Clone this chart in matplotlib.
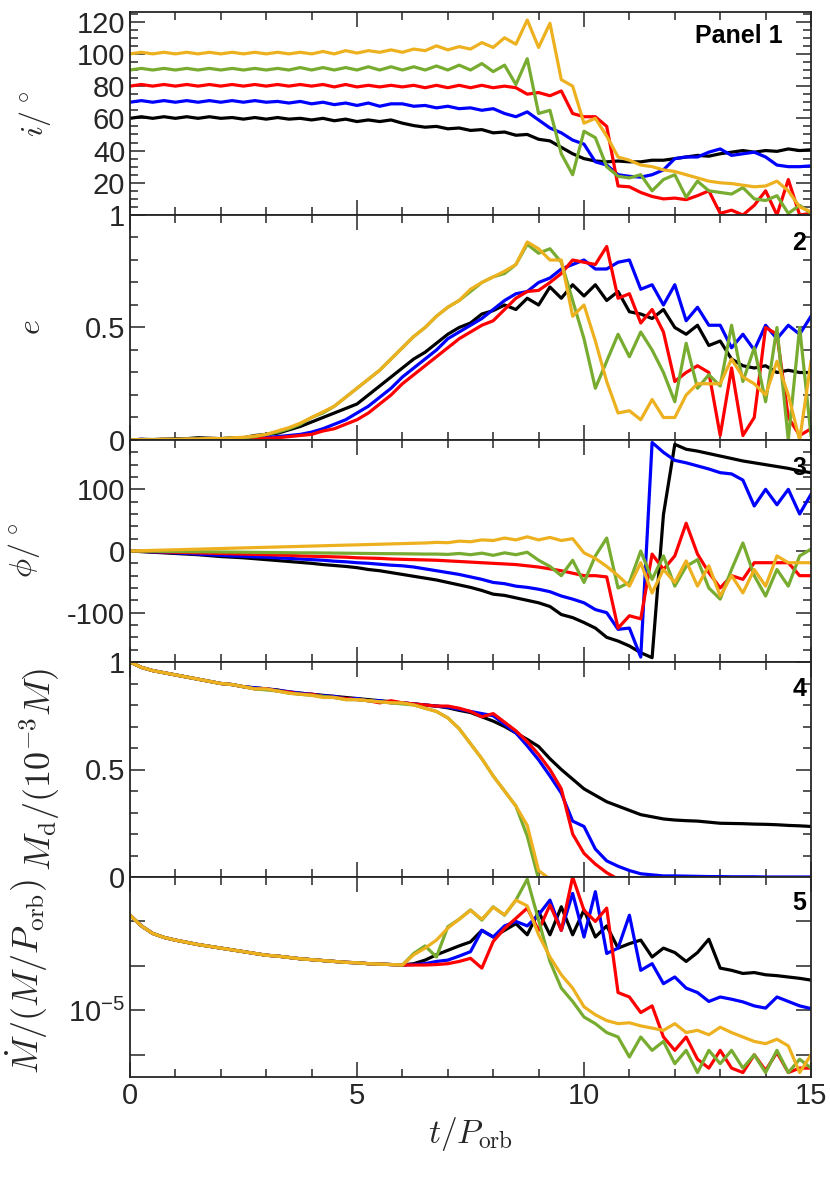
import numpy as np
import matplotlib
matplotlib.use("Agg")
import matplotlib.pyplot as plt
from matplotlib.ticker import MultipleLocator, FixedLocator, FixedFormatter, NullLocator

plt.rcParams['font.family'] = ['Liberation Sans', 'DejaVu Sans']
plt.rcParams['mathtext.fontset'] = 'cm'
plt.rcParams['axes.unicode_minus'] = False

nan = np.nan

# time grid, t / P_orb
t = np.linspace(0, 15, 61)

# ---- panel 1: inclination (deg)
inc_black = [60, 61, 60, 61, 60, 61, 60, 61, 60, 60.5, 59.5, 60.5, 59.5, 60.5, 59.5, 60,
             59, 60, 58.5, 59.5, 58, 59, 58, 59, 57, 55.5, 54.5, 55, 53.5, 54, 52.5, 53,
             51, 51.5, 49.5, 50, 47, 46, 42, 38, 35, 33.5, 33, 33.5, 33, 33, 34, 34,
             35, 36, 37, 36.5, 38, 39, 40, 39, 40, 39.5, 41, 40, 40.5]
inc_blue = [70, 71, 70, 71, 70, 71, 70, 71, 70, 71, 70, 71, 70, 70.5, 69.5, 70.5,
            69, 70, 68.5, 69.5, 68, 69.5, 67.5, 69, 69, 67.5, 68, 66.5, 67.5, 66, 66.5, 65,
            66, 63, 61, 64, 59, 54, 51, 46.5, 44, 33, 31, 25, 24, 23.5, 25, 28,
            35, 36, 36, 39, 41, 37, 38, 39, 36, 31, 30, 30, 30.5]
inc_red = [80, 81, 80, 81, 80, 81, 80, 81, 80, 81, 80, 81, 80, 81, 80, 81,
           80, 81, 79.5, 81, 79.5, 80.5, 79.5, 80.5, 79.5, 80.5, 79, 80.5, 79, 80.5, 79, 80.5,
           79, 80, 79, 75, 76, 74, 77, 63, 61, 61, 55, 18, 17.5, 14, 11.5, 10,
           10.5, 9.5, 12, 15, 1, 3, 0, 6, 15, 0, 22, 0, 1]
inc_green = [90, 91, 90, 91, 90, 91, 90, 91, 90, 91, 90, 91, 90, 91, 90, 91.5,
             90, 91.5, 90, 91.5, 90, 92, 90, 92, 90, 92, 90, 92.5, 90, 93, 90, 94,
             89, 93, 81, 97, 63, 65, 38, 25, 52, 48, 30, 24, 23, 25, 15, 22,
             25, 11, 21, 15, 14, 13, 17, 10, 9, 12, 1, 6, 1]
inc_yellow = [100, 101, 100, 101, 100, 101, 100, 101, 100, 101, 100, 101, 100, 101, 100, 101,
              100, 101.5, 100, 102, 100.5, 102, 101, 102.5, 101, 103, 102, 105, 102.5, 104.5, 103, 107,
              104, 110, 106, 121, 104, 119, 84, 80, 57, 60, 49, 36, 34, 31, 30, 28,
              27, 25, 23, 21, 20, 19.5, 18.5, 17.5, 18, 21, 15, 5, 2]

# ---- panel 2: eccentricity
e_black = [0, .003, .002, .004, .005, .006, .01, .008, .006, .01, .01, .02, .025, .03, .045, .06,
           .08, .1, .12, .14, .16, .2, .24, .28, .32, .36, .39, .43, .47, .5, .52, .56,
           .575, .6, .58, .63, .6, .68, .63, .69, .64, .69, .62, .66, .57, .56, .54, .58,
           .5, .47, .51, .42, .44, .36, .33, .32, .33, .3, .31, .3, .3]
e_blue = [0, .003, 0, .003, .002, .004, .003, .005, .004, .006, .008, .01, .012, .015, .02, .025,
          .035, .05, .07, .09, .12, .15, .19, .23, .28, .32, .36, .4, .45, .48, .51, .54,
          .58, .62, .65, .66, .7, .72, .76, .78, .8, .76, .76, .79, .8, .67, .69, .6,
          .69, .53, .59, .51, .51, .41, .47, .4, .51, .45, .51, .47, .55]
e_red = [0, .002, 0, .002, 0, .002, .001, .003, .002, .004, .005, .007, .008, .01, .015, .02,
         .025, .04, .05, .07, .09, .12, .16, .2, .25, .29, .33, .37, .41, .45, .48, .51,
         .53, .58, .63, .66, .665, .7, .74, .8, .79, .78, .86, .63, .65, .52, .58, .48,
         .26, .3, .33, .3, .02, .32, .02, .1, .5, .47, .1, .02, .05]
e_green = [0, .002, .001, .003, .002, .004, .004, .006, .006, .008, .01, .015, .025, .035, .05, .07,
           .1, .12, .15, .19, .23, .27, .31, .36, .41, .46, .5, .55, .59, .62, .66, .7,
           .725, .74, .78, .87, .83, .85, .79, .62, .45, .23, .35, .47, .37, .48, .4, .3,
           .17, .43, .23, .29, .24, .51, .26, .41, .17, .5, 0, .5, .02]
e_yellow = [0, .002, .001, .004, .003, .005, .005, .007, .006, .01, .012, .018, .025, .04, .055, .075,
            .1, .125, .15, .19, .23, .27, .31, .36, .41, .46, .5, .55, .59, .62, .67, .7,
            .725, .75, .78, .88, .85, .8, .8, .55, .6, .44, .26, .12, .13, .09, .18, .1,
            .1, .2, .25, .25, .25, .36, .28, .25, .2, .35, .2, 0, .35]

# ---- panel 3: phase angle (deg)
phi_black = [0, -1, -2, -3, -4, -5, -6, -7.5, -9, -10, -11, -12.5, -14, -15.5, -17, -18.5,
             -20, -22, -23.5, -25, -27, -30, -32, -35, -38, -41, -44, -47, -51, -55, -59, -64,
             -70, -72, -76, -80, -84, -90, -103, -108, -116, -125, -140, -146, -154, -165, -173, 59,
             173, 165, 162, 158, 154, 150, 146, 143, 140, 137, 134, 130, 127]
phi_blue = [0, -.5, -1.5, -2, -3, -4, -5, -6, -7, -8, -8.5, -9.5, -10, -11, -12, -13,
            -14, -15, -16.5, -17.5, -19, -20, -21.5, -23, -24, -26, -29, -32, -35, -38, -42, -46,
            -51, -53, -57, -59, -62, -66, -73, -78, -84, -95, -100, -127, -125, -172, 176, 160,
            147, 143, 138, 133, 127, 125, 115, 73, 100, 75, 100, 60, 92]
phi_red = [0, -.5, -1, -1.5, -2, -2.5, -3, -3.5, -4, -4.5, -5, -5.5, -6, -6.5, -7, -8,
           -8.5, -9, -9.5, -10, -11, -11.5, -12, -13, -13.5, -14, -14.5, -15, -16, -17, -18, -19,
           -20, -21, -22, -24, -26, -29, -32, -36, -40, -40, -42, -125, -105, -110, -5, -30,
           -8, 45, -5, -35, -60, -40, -46, -19, -19, -19, -19, -40, -40]
phi_green = [0, -.2, -.4, -.6, -.8, -1, -1.2, -1.4, -1.6, -1.8, -2, -2.2, -2.4, -2.6, -2.8, -3,
             -3, -3.2, -3.4, -3.6, -3.8, -4, -4.2, -4.4, -4.5, -4.7, -5, -5, -5.5, -4, -6, -3.5,
             -7, -3, -6, -2, -15, -25, -40, -15, -51, -8, 21, -60, -51, 0, -46, -8,
             -57, -25, -14, -60, -78, -30, 13, -40, -73, -30, -57, -8, 3]
phi_yellow = [0, .5, 1, 1.5, 2, 2.5, 3, 3.5, 4, 4.5, 5, 5.5, 6, 6.5, 7, 7.5,
              8, 8.5, 9, 9.5, 10, 10.5, 11, 11.5, 12, 12.5, 13, 14, 13.5, 16, 15, 18,
              17, 21, 18, 23, 18, 22, 17, 20, -3, -12, -25, -40, -57, -19, -68, -30,
              -51, -16, -57, -24, -73, -40, -68, -30, -57, -8, -19, -19, -19]

# ---- panel 4: disc mass (1e-3 M)
md_black = [1.0, .975, .96, .95, .94, .93, .92, .91, .9, .895, .885, .88, .875, .87, .86, .855,
            .85, .845, .84, .835, .83, .825, .82, .815, .81, .805, .8, .795, .787, .775, .765, .745,
            .725, .7, .67, .64, .607, .55, .5, .455, .41, .38, .35, .33, .31, .29, .28, .27,
            .265, .262, .26, .255, .25, .249, .248, .246, .245, .243, .24, .238, .235]
md_blue = [1.0, .975, .96, .95, .94, .93, .92, .91, .9, .895, .885, .88, .875, .868, .862, .855,
           .85, .843, .84, .83, .83, .82, .82, .81, .81, .805, .8, .795, .79, .78, .77, .76,
           .75, .71, .67, .61, .545, .47, .39, .26, .235, .13, .075, .05, .03, .015, .01, .005,
           .005, .004, .003, .002, .002, .001, .001, .001, 0, 0, 0, 0, 0]
md_red = [1.0, .975, .96, .95, .94, .93, .92, .91, .9, .895, .885, .875, .875, .865, .86, .85,
          .85, .84, .835, .83, .825, .82, .81, .82, .81, .805, .8, .795, .795, .785, .77, .745,
          .76, .72, .68, .63, .57, .5, .41, .2, .11, .06, .02, -.01, nan, nan, nan, nan,
          nan, nan, nan, nan, nan, nan, nan, nan, nan, nan, nan, nan, nan]
md_green = [1.0, .975, .96, .95, .94, .93, .92, .91, .9, .895, .885, .875, .87, .865, .855, .85,
            .845, .84, .835, .825, .825, .82, .815, .81, .805, .8, .785, .77, .74, .69, .62, .55,
            .47, .4, .33, .19, -.01, nan, nan, nan, nan, nan, nan, nan, nan, nan, nan, nan,
            nan, nan, nan, nan, nan, nan, nan, nan, nan, nan, nan, nan, nan]
md_yellow = [1.0, .975, .96, .95, .94, .93, .92, .91, .9, .895, .885, .875, .875, .865, .855, .85,
             .845, .835, .835, .825, .825, .82, .815, .81, .81, .8, .785, .77, .74, .69, .62, .55,
             .47, .4, .33, .24, .03, -.01, nan, nan, nan, nan, nan, nan, nan, nan, nan, nan,
             nan, nan, nan, nan, nan, nan, nan, nan, nan, nan, nan, nan, nan]

# ---- panel 5: accretion rate, log10(Mdot / (M/P_orb))
early = [-2.86, -3.1, -3.27, -3.36, -3.42, -3.47, -3.52, -3.56, -3.6, -3.64, -3.68, -3.72,
         -3.76, -3.78, -3.81, -3.84, -3.86, -3.88, -3.9, -3.92, -3.93, -3.95, -3.96, -3.97]
lmd_black = early + [-3.98, -3.95, -3.87, -3.75, -3.65, -3.55, -3.46, -3.2,
                     -3.35, -3.2, -3.05, -3.3, -2.78, -3.3, -2.67, -3.3, -2.74, -3.35, -3.1, -3.6,
                     -3.5, -3.42, -3.8, -3.6, -3.7, -3.9, -3.7, -3.4, -4.05, -4.1, -4.17, -4.15,
                     -4.2, -4.22, -4.25, -4.28, -4.32]
lmd_blue = early + [-3.98, -3.97, -3.95, -3.9, -3.87, -3.78, -3.68, -3.2,
                    -3.35, -3.1, -3.0, -3.1, -2.85, -2.52, -3.2, -2.37, -3.35, -2.33, -3.72, -3.6,
                    -2.86, -4.1, -3.95, -4.4, -4.25, -4.5, -4.6, -4.8, -4.7, -4.75, -4.81, -4.9,
                    -4.95, -4.7, -4.8, -4.9, -4.96]
lmd_red = early + [-3.98, -3.98, -3.98, -3.97, -3.95, -3.9, -3.83, -4.05,
                   -3.45, -3.16, -2.93, -2.7, -3.2, -2.63, -3.2, -2.0, -2.75, -3.0, -2.7, -4.6,
                   -4.7, -5.05, -4.9, -5.6, -5.9, -5.6, -6.1, -6.3, -5.9, -6.3, -6.4, -6.0,
                   -6.35, -5.95, -6.4, -6.3, -6.3]
lmd_green = early + [-3.98, -3.72, -3.55, -3.8, -3.12, -2.95, -2.74, -2.97,
                     -2.67, -2.86, -2.52, -2.05, -2.97, -3.9, -4.5, -4.8, -5.15, -5.3, -5.5, -5.6,
                     -6.05, -5.6, -5.9, -5.7, -6.2, -5.9, -6.4, -5.9, -6.2, -5.9, -6.3, -6.0,
                     -6.4, -5.9, -6.4, -6.1, -6.3]
lmd_yellow = early + [-3.98, -3.75, -3.6, -3.42, -3.15, -2.95, -2.75, -2.95,
                      -2.68, -2.85, -2.52, -2.65, -3.3, -3.8, -4.2, -4.5, -4.92, -5.1, -5.23, -5.3,
                      -5.28, -5.35, -5.4, -5.45, -5.3, -5.5, -5.45, -5.55, -5.38, -5.5, -5.6, -5.7,
                      -5.75, -5.65, -5.8, -6.4, -6.0]

colors = ['black', '#0000FF', '#FF0000', '#77AC30', '#EDB120']
dark = '#262626'

fig = plt.figure(figsize=(8.3, 11.86), dpi=100)
W, H = 830.0, 1186.0
left, right = 130, 811
# (top, bottom) of each panel in pixels
edges = [(12, 215), (215, 440), (440, 662), (662, 877), (877, 1077)]
axes = []
for top, bot in edges:
    ax = fig.add_axes([left / W, 1 - bot / H, (right - left) / W, (bot - top) / H])
    axes.append(ax)

panels = [
    [inc_black, inc_blue, inc_red, inc_green, inc_yellow],
    [e_black, e_blue, e_red, e_green, e_yellow],
    [phi_black, phi_blue, phi_red, phi_green, phi_yellow],
    [md_black, md_blue, md_red, md_green, md_yellow],
    [lmd_black, lmd_blue, lmd_red, lmd_green, lmd_yellow],
]

for k, ax in enumerate(axes):
    for series, c in zip(panels[k], colors):
        y = np.array(series, dtype=float)
        if k == 4:
            y = 10 ** y
        ax.plot(t, y, color=c, lw=2.3)
    ax.set_xlim(0, 15)
    ax.xaxis.set_major_locator(FixedLocator([0, 5, 10, 15]))
    ax.xaxis.set_minor_locator(MultipleLocator(1))
    ax.tick_params(which='both', direction='in', top=True, right=True,
                   colors=dark, labelsize=21, width=1.1)
    ax.tick_params(which='major', length=10.5)
    ax.tick_params(which='minor', length=5.5)
    for s in ax.spines.values():
        s.set_linewidth(1.3)
        s.set_color(dark)
    if k < 4:
        ax.tick_params(labelbottom=False)

# panel 1
ax = axes[0]
ax.set_ylim(0, 126)
ax.set_yticks([20, 40, 60, 80, 100, 120])
ax.yaxis.set_minor_locator(MultipleLocator(5))
ax.set_ylabel(r'$i/^\circ$', fontsize=23, color=dark)
ax.yaxis.set_label_coords(-0.113, 0.5)
ax.text(0.959, 0.94, 'Panel 1', transform=ax.transAxes, ha='right', va='top',
        fontsize=18, fontweight='bold')

# panel 2
ax = axes[1]
ax.set_ylim(0, 1)
ax.yaxis.set_major_locator(FixedLocator([0, 0.5, 1]))
ax.yaxis.set_major_formatter(FixedFormatter(['0', '0.5', '1']))
ax.yaxis.set_minor_locator(MultipleLocator(0.1))
ax.set_ylabel(r'$e$', fontsize=23, color=dark)
ax.yaxis.set_label_coords(-0.122, 0.5)

# panel 3
ax = axes[2]
ax.set_ylim(-180, 180)
ax.set_yticks([-100, 0, 100])
ax.yaxis.set_minor_locator(MultipleLocator(20))
ax.set_ylabel(r'$\phi/^\circ$', fontsize=23, color=dark)
ax.yaxis.set_label_coords(-0.129, 0.5)

# panel 4
ax = axes[3]
ax.set_ylim(0, 1)
ax.yaxis.set_major_locator(FixedLocator([0, 0.5, 1]))
ax.yaxis.set_major_formatter(FixedFormatter(['0', '0.5', '1']))
ax.yaxis.set_minor_locator(MultipleLocator(0.1))
ax.set_ylabel(r'$M_{\rm d}/(10^{-3}M)$', fontsize=26, color=dark)
ax.yaxis.set_label_coords(-0.1, 0.5)

# panel 5
ax = axes[4]
ax.set_yscale('log')
ax.set_ylim(10 ** -6.5, 1e-2)
ax.yaxis.set_major_locator(FixedLocator([1e-6, 1e-5, 1e-4, 1e-3]))
ax.yaxis.set_major_formatter(FixedFormatter(['', r'$\mathregular{10^{-5}}$', '', '']))
ax.yaxis.set_minor_locator(NullLocator())
ax.set_ylabel(r'$\dot{M}/(M/P_{\rm orb})$', fontsize=26, color=dark)
ax.yaxis.set_label_coords(-0.118, 0.5)
ax.set_xlabel(r'$t/P_{\rm orb}$', fontsize=24, color=dark)

for k, ax in enumerate(axes[1:]):
    ax.text(0.993, 0.93, str(k + 2), transform=ax.transAxes, ha='right', va='top',
            fontsize=18, fontweight='bold')

fig.savefig('out.png', dpi=100)
